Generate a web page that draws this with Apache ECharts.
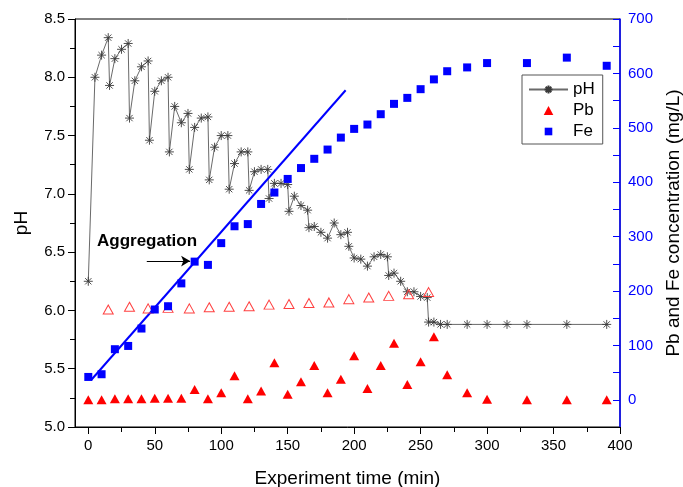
<!DOCTYPE html>
<html>
<head>
<meta charset="utf-8">
<script src="https://cdn.jsdelivr.net/npm/echarts@6/dist/echarts.min.js"></script>
<style>
html,body{margin:0;padding:0;background:#fff;}
#chart{width:683px;height:487px;}
</style>
</head>
<body>
<div id="chart"></div>
<script>
// ---- data ----
const timePH = [0,5,10,15,16,20,25,30,31,35,40,45,46,50,55,60,61,65,70,75,76,80,85,90,91,95,100,105,106,110,115,120,121,125,130,135,136,140,145,150,151,155,160,165,166,170,175,180,185,190,195,196,200,205,210,215,220,225,226,230,235,240,245,250,255,256,260,265,270,285,300,315,330,360,390];
const pH = [6.25,8.0,8.19,8.34,7.93,8.16,8.24,8.29,7.65,7.97,8.09,8.14,7.46,7.88,7.97,8.0,7.36,7.75,7.61,7.69,7.21,7.57,7.65,7.66,7.12,7.40,7.50,7.50,7.04,7.26,7.36,7.36,7.03,7.19,7.21,7.21,6.96,7.09,7.09,7.08,6.85,6.98,6.90,6.86,6.71,6.72,6.67,6.62,6.75,6.65,6.67,6.55,6.45,6.44,6.38,6.46,6.48,6.46,6.30,6.32,6.25,6.16,6.16,6.12,6.11,5.90,5.90,5.88,5.88,5.88,5.88,5.88,5.88,5.88,5.88];

const timeMetal = [0,10,20,30,40,50,60,70,80,90,100,110,120,130,140,150,160,170,180,190,200,210,220,230,240,250,260,270,285,300,330,360,390];
const pb = [0,0,2,2,2,3,3,3,19,2,13,44,2,16,68,10,33,63,13,38,81,21,63,104,28,70,116,46,13,1,0,0,0];
const fe = [42,47,93,99,131,166,172,214,254,248,288,319,323,360,381,406,426,443,460,482,498,506,525,544,555,571,589,604,611,619,619,629,614];

const timePbOpen = [15,31,45,60,76,91,106,121,136,151,166,181,196,211,226,241,256];
const pbOpen = [166,171,168,169,168,170,171,172,175,176,178,179,185,188,191,194,198];

const trendTime = [2,193.6];
const trendFe = [36,569];

const arrowTime = [44,76.6];
const arrowFe = [255,255];
const annotation = 'Aggregation';

const xLabels = [0,50,100,150,200,250,300,350,400];
const xMinor = [25,75,125,175,225,275,325,375];
const rightLabels = [0,100,200,300,400,500,600,700];
const rightTicks = [0,50,100,150,200,250,300,350,400,450,500,550,600,650,700];

// ---- chart ----
const FONT = '"Liberation Sans", Arial, sans-serif';
const zip = (a,b) => a.map((v,i)=>[v,b[i]]);
const asterisk = 'path://M0,5L10,5M5,0L5,10M1.5,1.5L8.5,8.5M8.5,1.5L1.5,8.5';
const triIcon = 'path://M0,0M10,10M5,0.5L9.8,9.5L0.2,9.5Z';
const sqIcon = 'path://M0,0M10,10M1.2,1.2L8.8,1.2L8.8,8.8L1.2,8.8Z';

const chart = echarts.init(document.getElementById('chart'), null, {renderer:'canvas'});
const option = {
  animation: false,
  backgroundColor: '#fff',
  textStyle: {fontFamily: FONT},
  grid: {left: 75, right: 63, top: 19, bottom: 60, outerBoundsMode: 'none', containLabel: false,
         show: true, borderColor: '#000', borderWidth: 1, backgroundColor: 'transparent'},
  legend: {
    data: [{name: 'pH'}, {name: 'Pb', icon: triIcon}, {name: 'Fe', icon: sqIcon}],
    orient: 'vertical',
    left: 522, top: 75,
    padding: [6,8,4,6],
    itemGap: 4,
    itemWidth: 39,
    itemHeight: 10,
    symbolKeepAspect: true,
    borderColor: '#555',
    borderWidth: 1,
    textStyle: {fontSize: 17, color: '#000', fontFamily: FONT}
  },
  xAxis: [{
    type: 'value', min: -10, max: 400, position: 'bottom',
    name: 'Experiment time (min)', nameLocation: 'middle', nameGap: 42,
    nameTextStyle: {fontSize: 19, color: '#000', fontFamily: FONT},
    axisLine: {show: true, onZero: false, lineStyle: {color: '#000', width: 1}},
    axisTick: {show: true, inside: false, length: 7, customValues: xLabels, lineStyle: {color: '#000'}},
    axisLabel: {customValues: xLabels, fontSize: 15, color: '#000', margin: 11, fontFamily: FONT},
    splitLine: {show: false}
  }, {
    type: 'value', min: -10, max: 400, position: 'bottom',
    axisLine: {show: false, onZero: false},
    axisTick: {show: true, inside: false, length: 5, customValues: xMinor, lineStyle: {color: '#000'}},
    axisLabel: {show: false},
    splitLine: {show: false}
  }],
  yAxis: [{
    type: 'value', min: 5, max: 8.5, interval: 0.5, position: 'left',
    name: 'pH', nameLocation: 'middle', nameGap: 44,
    nameTextStyle: {fontSize: 19, color: '#000', fontFamily: FONT},
    axisLine: {show: true, onZero: false, lineStyle: {color: '#000', width: 1}},
    axisTick: {show: true, inside: false, length: 7, lineStyle: {color: '#000'}},
    minorTick: {show: true, splitNumber: 2, length: 5, lineStyle: {color: '#000'}},
    axisLabel: {fontSize: 15, color: '#000', margin: 10, fontFamily: FONT, formatter: v => v.toFixed(1)},
    splitLine: {show: false}
  }, {
    type: 'value', min: -50, max: 700, position: 'right',
    name: 'Pb and Fe concentration (mg/L)', nameLocation: 'middle', nameGap: 44, nameRotate: 90,
    nameTextStyle: {fontSize: 19, color: '#000', fontFamily: FONT},
    axisLine: {show: true, onZero: false, lineStyle: {color: '#0000ff', width: 1.5}},
    axisTick: {show: true, inside: true, length: 7, customValues: rightTicks, lineStyle: {color: '#0000ff', width: 1}},
    axisLabel: {customValues: rightLabels, fontSize: 15, color: '#0000ff', margin: 8, fontFamily: FONT},
    splitLine: {show: false}
  }],
  graphic: [{
    type: 'text', left: 97, top: 233, z: 100,
    style: {text: annotation, font: 'bold 17px "Liberation Sans", Arial, sans-serif', fill: '#000'}
  }],
  series: [{
    name: 'pH', type: 'line', xAxisIndex: 0, yAxisIndex: 0,
    data: zip(timePH, pH),
    symbol: asterisk, symbolSize: 9, showAllSymbol: true,
    lineStyle: {color: '#6a6a6a', width: 1},
    itemStyle: {color: '#3a3a3a', borderColor: '#3a3a3a', borderWidth: 0.9},
    z: 2
  }, {
    name: 'Pb (open)', type: 'scatter', xAxisIndex: 0, yAxisIndex: 1,
    data: zip(timePbOpen, pbOpen),
    symbol: 'triangle', symbolSize: [10,9],
    itemStyle: {color: 'rgba(255,255,255,0)', borderColor: '#ff4040', borderWidth: 1, opacity: 1},
    z: 3
  }, {
    name: 'trend', type: 'line', xAxisIndex: 0, yAxisIndex: 1,
    data: zip(trendTime, trendFe),
    symbol: 'none', lineStyle: {color: '#0000ff', width: 2},
    z: 3
  }, {
    name: 'Pb', type: 'scatter', xAxisIndex: 0, yAxisIndex: 1,
    data: zip(timeMetal, pb),
    symbol: 'triangle', symbolSize: [10,9],
    itemStyle: {color: '#ff0000', opacity: 1},
    z: 4
  }, {
    name: 'Fe', type: 'scatter', xAxisIndex: 0, yAxisIndex: 1,
    data: zip(timeMetal, fe),
    symbol: 'rect', symbolSize: 8,
    itemStyle: {color: '#0000ff', opacity: 1},
    z: 5,
    markLine: {
      silent: true,
      symbol: ['none','arrow'], symbolSize: [8,9],
      label: {show: false},
      lineStyle: {color: '#000', width: 1.2, type: 'solid'},
      data: [[{coord: [arrowTime[0], arrowFe[0]]}, {coord: [arrowTime[1], arrowFe[1]]}]]
    }
  }]
};
chart.setOption(option);
</script>
</body>
</html>
